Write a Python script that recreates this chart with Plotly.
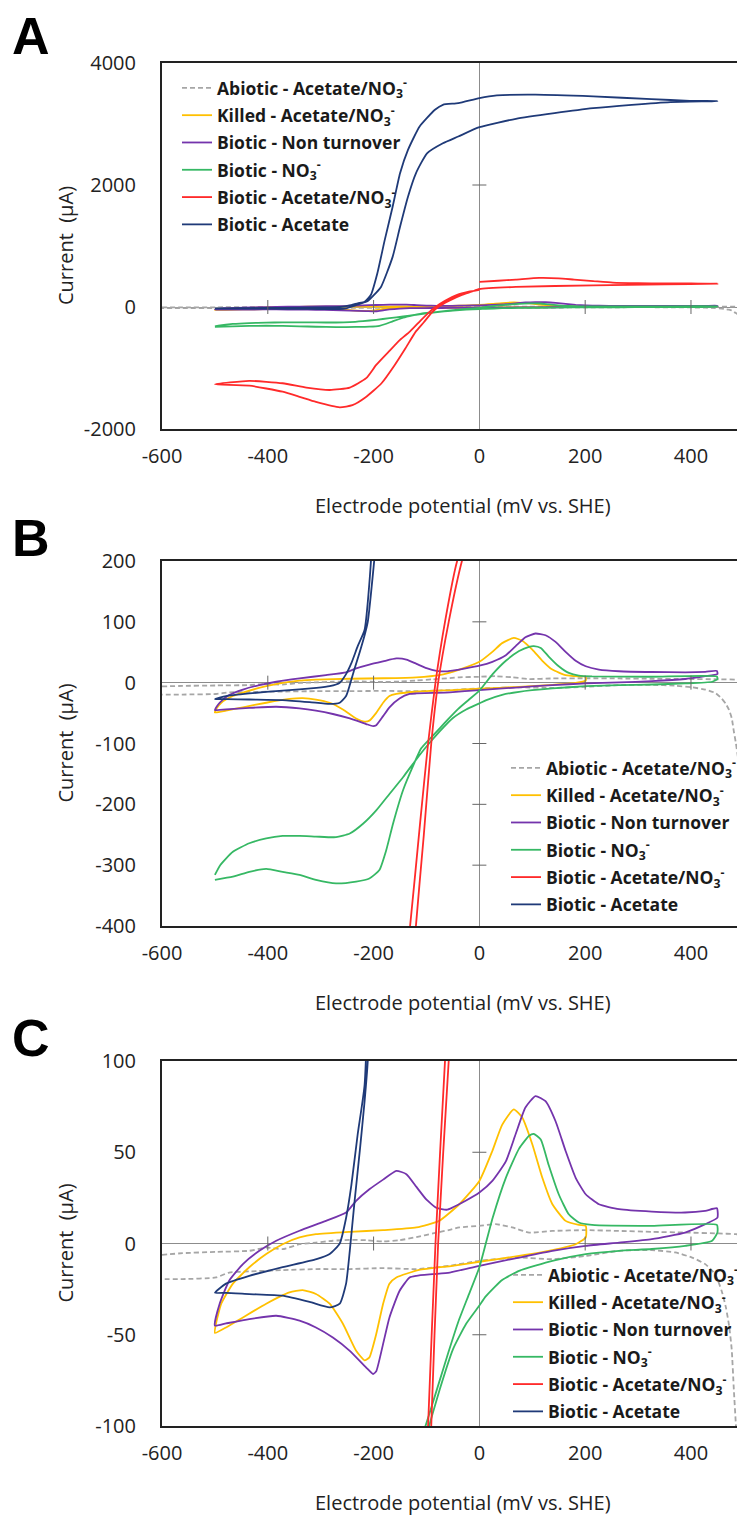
import plotly.graph_objects as go

# ---------------- data (mV vs SHE, µA) ----------------
abiotic_E = [-600, -561, -498, -435, -403, -372, -340, -309, -277, -245, -214, -182, -151, -119, -88, -56, -38, 0, 31, 62, 94, 138, 201, 264, 326, 389, 452, 484, 510,
             500, 490, 485, 481, 477, 472, 466, 458, 446, 427, 402, 370, 326, 264, 201, 138, 75, 0, -56, -119, -182, -245, -309, -372, -435, -473, -498, -561, -600]
abiotic_I = [-6.2, -5.3, -4.6, -4, -2.2, -3.1, -0.4, 0.5, 1.5, 2, 1.8, 1.1, 1.8, 3.5, 5.5, 7.5, 8.8, 9.7, 10.6, 8.8, 6, 6.9, 7.3, 6.9, 6.4, 6, 5.5, 5.1, 4,
             -200, -130, -100, -80, -58, -45, -35, -26, -17, -11.3, -7.7, -4.9, -3.6, -4, -6.8, -8.6, -7.7, -9.5, -12.2, -14, -13.5, -14, -14, -14.6, -15.3, -15.9, -18.6, -19.5, -19.5]

killed_E = [-500, -498, -488, -466, -435, -403, -372, -340, -309, -245, -182, -119, -76, -38, 0, 24.5, 43, 65, 81, 100, 119, 138, 163, 188, 201,
            201, 182, 138, 75, 0, -51, -114, -157, -170, -182, -195, -208, -217, -233, -258, -283, -309, -334, -359, -403, -447, -479, -500]
killed_I = [-49, -44, -33, -22, -13, -5.8, -0.4, 3.3, 5.1, 6.4, 7.3, 8.8, 12.4, 21.5, 34.3, 50.7, 65, 73.5, 69, 54.4, 36, 21.5, 12.4, 10.2, 9.7,
            3.3, -0.4, -3.6, -6.8, -10, -12.2, -14.5, -18.6, -22, -33, -49.6, -62.4, -64, -58.8, -44, -33, -27.7, -25.5, -26.8, -33, -40.5, -46, -49]

nonturn_E = [-500, -491, -473, -447, -416, -384, -340, -290, -252, -233, -208, -182, -157, -138, -119, -100, -81, -62, -51, -26, 0, 24.5, 50, 68.6, 87, 106, 125, 144, 163, 182, 201, 226, 264, 326, 389, 427, 449,
             450, 427, 389, 326, 264, 201, 138, 75, 0, -56, -88, -119, -132, -151, -170, -182, -195, -201, -214, -245, -277, -309, -340, -384, -435, -479, -500]
nonturn_I = [-45, -33, -20.4, -11.3, -4, 1.5, 7, 12.4, 17, 23.4, 29.7, 35, 39.8, 38, 31, 24, 19.5, 18.5, 19.7, 23.4, 27.9, 34.3, 45, 60, 74.5, 80.8, 78, 67, 50.7, 36, 27, 21.5, 18.8, 17.5, 17, 17.9, 19.3,
             14.2, 10.6, 6, 2.4, 0.5, -1.3, -4, -7.7, -12.2, -15.9, -16.8, -17.7, -18.6, -26, -40.5, -55, -70, -71.5, -68, -58.8, -51.5, -46, -42.3, -39.6, -41.4, -43.8, -45]

nitrate_E = [-500, -466, -435, -403, -372, -340, -309, -271, -233, -208, -189, -176, -163, -144, -126, -110, -91, -75, -59, -40, -20, 0, 25, 50, 75, 94, 103, 116, 131, 150, 169, 188, 213, 326, 449,
             450, 440, 389, 326, 264, 201, 138, 75, 43, 12, 0, -25, -50, -75, -100, -120, -144, -170, -195, -220, -245, -271, -309, -340, -372, -403, -435, -466, -490, -500]
nitrate_I = [-324, -319, -311, -306, -311, -316, -324, -330, -327, -322, -308, -275, -231, -176, -138, -108, -90, -75, -60, -43, -28, -13, 14, 36, 52, 59, 60, 57, 43, 27, 16, 11.5, 10.2, 9.7, 10.2,
             6, 1.5, -1.3, -3, -4, -5.8, -9.5, -15, -20, -29, -34, -44, -58, -80, -105, -127, -155, -183, -210, -232, -248, -254, -253, -252, -252, -256, -264, -278, -300, -316]

acenit_E = [0, 35, 69, 113, 150, 179, 215, 252, 300, 350, 400, 450,
            350, 215, 69, 0, -15, -33, -58, -78, -91, -105, -120, -140, -160, -185, -215, -240, -264, -309, -340, -372, -435, -500,
            -435, -372, -327, -283, -245, -214, -195, -170, -150, -131, -112, -97, -83, -65, -42, -20, 0]
acenit_I = [411, 430, 449, 477, 470, 449, 425, 400, 390, 386, 385, 384,
            372, 356, 329, 295, 250, 200, 100, 0, -100, -250, -400, -680, -950, -1250, -1480, -1610, -1644, -1556, -1472, -1389, -1289, -1267,
            -1211, -1250, -1322, -1361, -1322, -1167, -950, -720, -540, -400, -230, -100, 0, 100, 200, 250, 280]

acetate_E = [-500, -479, -435, -372, -308, -283, -264, -252, -242, -230, -217, -205, -193, -179, -164, -150, -135, -113, -84, -69, -40, 0, 33, 106, 215, 325, 398, 450,
             361, 288, 215, 142, 69, 0, -40, -69, -99, -120, -135, -150, -164, -186, -200, -211, -217, -226, -236, -245, -252, -264, -283, -321, -372, -435, -479, -500]
acetate_I = [-27, -22, -17.7, -13, -8.6, -5.8, 0, 14, 32, 60, 87, 200, 548, 1096, 1644, 2192, 2575, 2959, 3233, 3315, 3342, 3425, 3468, 3480, 3452, 3408, 3380, 3375,
             3359, 3315, 3260, 3178, 3085, 2948, 2795, 2685, 2520, 2192, 1808, 1315, 822, 329, 190, 100, 78, 51, 23, -4, -22, -33, -35, -32, -28.6, -27.7, -27, -27]

series_names = ["Abiotic - Acetate/NO<sub>3</sub><sup>-</sup>",
                "Killed - Acetate/NO<sub>3</sub><sup>-</sup>",
                "Biotic - Non turnover",
                "Biotic - NO<sub>3</sub><sup>-</sup>",
                "Biotic - Acetate/NO<sub>3</sub><sup>-</sup>",
                "Biotic - Acetate"]
series_E = [abiotic_E, killed_E, nonturn_E, nitrate_E, acenit_E, acetate_E]
series_I = [abiotic_I, killed_I, nonturn_I, nitrate_I, acenit_I, acetate_I]
series_colors = ["#a6a6a6", "#ffc000", "#7434ac", "#36b864", "#ff2a2a", "#1f3a78"]
series_dash = ["5px,3px", "solid", "solid", "solid", "solid", "solid"]

panel_letters = ["A", "B", "C"]
y_ranges = [[-2000, 4000], [-400, 200], [-100, 100]]
y_ticks = [[-2000, 0, 2000, 4000], [-400, -300, -200, -100, 0, 100, 200], [-100, -50, 0, 50, 100]]
y_cross = [[2000], [100, -100, -200, -300], [50, -50]]
x_range = [-600, 487]
x_ticks = [-600, -400, -200, 0, 200, 400]
x_cross = [-400, -200, 200, 400]

# ---------------- layout geometry (pixels) ----------------
W, H = 737, 1517
plot_left = 162
panel_tops = [63, 561, 1061]
panel_bottoms = [429, 926, 1426]
letter_y = [36, 538, 1038]
legend_pos = [(177, 70), (506, 750), (508, 1257)]

FONT = "Open Sans"
LEG_SIZE = 17.5

fig = go.Figure()
legend_ids = ["legend", "legend2", "legend3"]

for p in range(3):
    xa = "x" if p == 0 else f"x{p+1}"
    ya = "y" if p == 0 else f"y{p+1}"
    for k in range(6):
        fig.add_trace(go.Scatter(
            x=series_E[k], y=series_I[k], mode="lines",
            name=series_names[k], legendgroup=f"p{p}s{k}",
            line=dict(color=series_colors[k], width=1.8, dash=series_dash[k],
                      shape="spline", smoothing=0.5),
            xaxis=xa, yaxis=ya, legend=legend_ids[p], showlegend=True,
            hoverinfo="skip"))

layout = dict(width=W, height=H,
              margin=dict(l=0, r=0, t=0, b=0, pad=0, autoexpand=False),
              paper_bgcolor="white", plot_bgcolor="white",
              font=dict(family=FONT, color="#1a1a1a", size=20))

annotations = []
shapes = []
for p in range(3):
    xk = "xaxis" if p == 0 else f"xaxis{p+1}"
    yk = "yaxis" if p == 0 else f"yaxis{p+1}"
    xa = "x" if p == 0 else f"x{p+1}"
    ya = "y" if p == 0 else f"y{p+1}"
    top, bot = panel_tops[p], panel_bottoms[p]
    layout[xk] = dict(domain=[plot_left / W, 1.0], range=x_range, anchor=ya,
                      tickvals=x_ticks, ticktext=[str(v) for v in x_ticks],
                      ticks="", showgrid=False, automargin=False,
                      zeroline=True, zerolinecolor="#8c8c8c", zerolinewidth=1,
                      showline=True, mirror=True, linecolor="#222", linewidth=2,
                      tickfont=dict(size=20, family=FONT, color="#222"),
                      ticklabelstandoff=8)
    layout[yk] = dict(domain=[1 - bot / H, 1 - top / H], range=y_ranges[p], anchor=xa,
                      tickvals=y_ticks[p], ticktext=[str(v) for v in y_ticks[p]],
                      ticks="", showgrid=False, automargin=False,
                      zeroline=True, zerolinecolor="#8c8c8c", zerolinewidth=1,
                      showline=True, mirror=False, linecolor="#222", linewidth=2,
                      tickfont=dict(size=20, family=FONT, color="#222"),
                      ticklabelstandoff=20)
    lx, ly = legend_pos[p]
    layout[legend_ids[p]] = dict(x=lx / W, y=1 - ly / H, xanchor="left", yanchor="top",
                                 bgcolor="rgba(0,0,0,0)", borderwidth=0,
                                 traceorder="grouped",
                                 font=dict(family=FONT, size=LEG_SIZE, color="#1a1a1a", weight="bold"),
                                 tracegroupgap=27.3 - (LEG_SIZE * 1.3 + 3))
    for v in x_cross:
        shapes.append(dict(type="line", xref=xa, yref=ya, x0=v, x1=v,
                           ysizemode="pixel", yanchor=0, y0=-7, y1=7,
                           line=dict(color="#666", width=1)))
    for v in y_cross[p]:
        shapes.append(dict(type="line", xref=xa, yref=ya, y0=v, y1=v,
                           xsizemode="pixel", xanchor=0, x0=-7, x1=7,
                           line=dict(color="#666", width=1)))
    annotations.append(dict(text=f"<b>{panel_letters[p]}</b>", xref="paper", yref="paper",
                            x=31 / W, y=1 - letter_y[p] / H, xanchor="center", yanchor="middle",
                            showarrow=False, font=dict(family="Liberation Sans", size=52, color="#000")))
    annotations.append(dict(text="Current \u00a0(µA)", xref="paper", yref="paper",
                            x=65 / W, y=1 - (top + bot) / 2 / H, xanchor="center", yanchor="middle",
                            textangle=-90, showarrow=False,
                            font=dict(family=FONT, size=20, color="#222")))
    annotations.append(dict(text="Electrode potential (mV vs. SHE)", xref="paper", yref="paper",
                            x=463 / W, y=1 - (bot + 76) / H, xanchor="center", yanchor="middle",
                            showarrow=False, font=dict(family=FONT, size=20, color="#222")))

layout["annotations"] = annotations
layout["shapes"] = shapes
fig.update_layout(**layout)
fig.write_html("out.html")
